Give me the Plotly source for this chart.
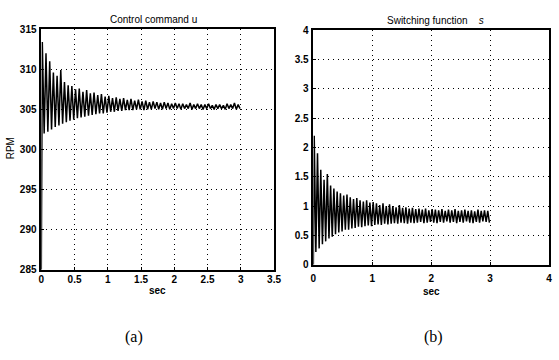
import numpy as np
import plotly.graph_objects as go

# ---- data ----
# (a) Control command u : per-cycle upper and lower peaks (RPM)
u_start = 285.0
u_upper = [313.4, 312.0, 311.0, 309.6, 309.2, 309.9, 308.4, 308.0, 307.9, 307.5,
           307.6, 307.2, 307.4, 307.0, 307.1, 306.8, 306.9, 306.6, 306.7, 306.4,
           306.5, 306.3, 306.4, 306.2, 306.3, 306.1, 306.2, 306.0, 306.1, 305.9,
           306.0, 305.9, 305.8, 305.9, 305.8, 305.7, 305.8, 305.7, 305.7, 305.6,
           305.8, 305.6, 305.7, 305.6, 305.6, 305.7, 305.5, 305.6, 305.6, 305.5,
           305.7, 305.6, 305.8, 305.6]
u_lower = [302.0, 302.2, 302.5, 302.8, 303.0, 303.2, 303.4, 303.6, 303.7, 303.9,
           304.0, 304.1, 304.2, 304.3, 304.4, 304.5, 304.5, 304.6, 304.7, 304.7,
           304.8, 304.8, 304.9, 304.9, 304.9, 305.0, 305.0, 304.9, 305.0, 305.0,
           305.1, 305.0, 305.0, 305.1, 305.0, 305.1, 305.1, 305.0, 305.1, 305.1,
           305.0, 305.1, 305.1, 305.0, 305.1, 305.1, 305.0, 305.1, 305.1, 305.0,
           305.1, 305.1, 305.0, 305.1]

# (b) Switching function s : per-cycle upper and lower peaks
s_start = 0.0
s_upper = [2.20, 1.90, 1.62, 1.45, 1.55, 1.35, 1.30, 1.25, 1.22, 1.18,
           1.20, 1.15, 1.12, 1.14, 1.10, 1.08, 1.10, 1.06, 1.07, 1.05,
           1.02, 1.05, 1.00, 1.03, 1.00, 0.98, 1.02, 0.97, 0.98, 0.96,
           0.97, 0.95, 0.96, 0.94, 0.96, 0.93, 0.95, 0.94, 0.93, 0.95,
           0.92, 0.94, 0.93, 0.95, 0.92, 0.93, 0.94, 0.92, 0.93, 0.91,
           0.94, 0.92, 0.93, 0.92]
s_lower = [0.22, 0.28, 0.35, 0.40, 0.45, 0.48, 0.52, 0.55, 0.57, 0.60,
           0.60, 0.62, 0.63, 0.65, 0.64, 0.66, 0.67, 0.66, 0.68, 0.69,
           0.68, 0.70, 0.69, 0.70, 0.71, 0.70, 0.72, 0.71, 0.70, 0.72,
           0.71, 0.72, 0.73, 0.71, 0.72, 0.73, 0.72, 0.71, 0.73, 0.72,
           0.74, 0.72, 0.73, 0.71, 0.73, 0.72, 0.74, 0.72, 0.71, 0.73,
           0.72, 0.74, 0.73, 0.72]

t_first_peak = 0.015
t_last_peak = 2.96

u_xticks = [0, 0.5, 1, 1.5, 2, 2.5, 3, 3.5]
u_yticks = [285, 290, 295, 300, 305, 310, 315]
s_xticks = [0, 1, 2, 3, 4]
s_yticks = [0, 0.5, 1, 1.5, 2, 2.5, 3, 3.5, 4]


def zigzag(start, upper, lower):
    n = len(upper)
    tu = np.linspace(t_first_peak, t_last_peak, n)
    half = (tu[1] - tu[0]) / 2
    xs, ys = [0.0], [start]
    for i in range(n):
        xs += [tu[i], tu[i] + half]
        ys += [upper[i], lower[i]]
    return xs, ys


ux, uy = zigzag(u_start, u_upper, u_lower)
sx, sy = zigzag(s_start, s_upper, s_lower)

W, H = 559, 360
fig = go.Figure()
fig.add_trace(go.Scatter(x=ux, y=uy, mode="lines", line=dict(color="black", width=1.5),
                         xaxis="x", yaxis="y", showlegend=False, hoverinfo="skip"))
fig.add_trace(go.Scatter(x=sx, y=sy, mode="lines", line=dict(color="black", width=1.5),
                         xaxis="x2", yaxis="y2", showlegend=False, hoverinfo="skip"))

tickfont = dict(family="Liberation Sans, Arial, sans-serif", size=10, color="black", weight="bold")
common = dict(showline=True, mirror=True, linecolor="black", linewidth=1.5,
              showgrid=True, gridcolor="black", gridwidth=1, griddash="1px,4px",
              ticks="inside", ticklen=3, tickcolor="black", zeroline=False,
              tickfont=tickfont, fixedrange=True)

L = dict(x0=39, x1=276, y0=25, y1=273)
R = dict(x0=316, x1=556, y0=26, y1=268)

fig.update_layout(
    width=W, height=H, margin=dict(l=0, r=0, t=0, b=0),
    paper_bgcolor="white", plot_bgcolor="white",
    xaxis=dict(domain=[L["x0"] / W, L["x1"] / W], range=[0, 3.5], tickvals=u_xticks,
               ticktext=[f"{v:g}" for v in u_xticks], anchor="y", **common),
    yaxis=dict(domain=[1 - L["y1"] / H, 1 - L["y0"] / H], range=[285, 315], tickvals=u_yticks,
               ticktext=[str(v) for v in u_yticks], anchor="x", ticklabelstandoff=1, **common),
    xaxis2=dict(domain=[R["x0"] / W, R["x1"] / W], range=[0, 4], tickvals=s_xticks,
                ticktext=[f"{v:g}" for v in s_xticks], anchor="y2", ticklabelstandoff=3, **common),
    yaxis2=dict(domain=[1 - R["y1"] / H, 1 - R["y0"] / H], range=[0, 4], tickvals=s_yticks,
                ticktext=[f"{v:g}" for v in s_yticks], anchor="x2", ticklabelstandoff=1, **common),
)

lab = dict(family="Liberation Sans, Arial, sans-serif", size=10, color="black")


def ann(x, y, text, font, angle=0):
    fig.add_annotation(x=x / W, y=1 - y / H, xref="paper", yref="paper", text=text,
                       showarrow=False, font=font, textangle=angle,
                       xanchor="center", yanchor="middle")


ann(153, 15, "Control command u", lab)
ann(440, 16, "Switching function &nbsp;&nbsp;&nbsp;<i>s</i>", lab)
ann(157, 294, "<b>sec</b>", lab)
ann(436, 296, "<b>sec</b>", lab)
ann(8, 148, "RPM", dict(lab, size=10), angle=-90)
serif = dict(family="Liberation Serif, DejaVu Serif, serif", size=16, color="black")
ann(133, 342, "(a)", serif)
ann(438, 342, "(b)", serif)

fig.write_html("out.html")
